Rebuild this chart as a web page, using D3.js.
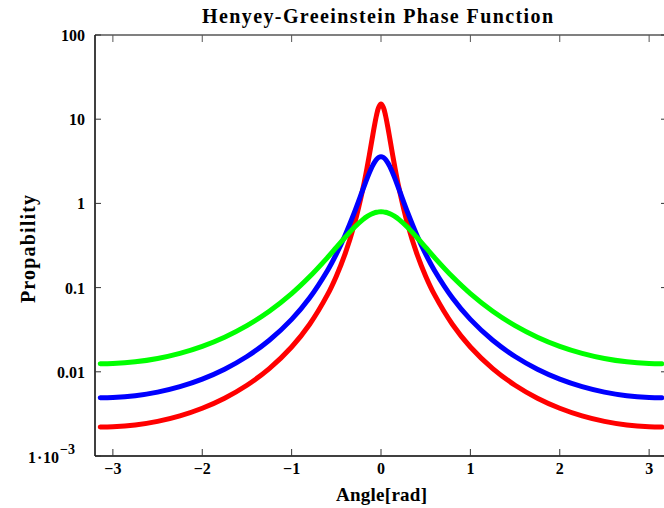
<!DOCTYPE html>
<html><head><meta charset="utf-8">
<script src="https://cdn.jsdelivr.net/npm/d3@7"></script>
<style>body{margin:0;background:#fff}svg{display:block}text{font-family:"Liberation Serif","Times New Roman",serif;font-weight:bold;fill:#000}</style>
</head><body>
<script>
const angles = [-3.1416,-3.0,-2.75,-2.5,-2.25,-2.0,-1.75,-1.5,-1.25,-1.0,-0.8,-0.6,-0.5,-0.4,-0.3,-0.2,-0.15,-0.1,-0.075,-0.05,-0.025,0,0.025,0.05,0.075,0.1,0.15,0.2,0.3,0.4,0.5,0.6,0.8,1.0,1.25,1.5,1.75,2.0,2.25,2.5,2.75,3.0,3.1416];
const redVals = [0.002204,0.002221,0.002335,0.002578,0.002998,0.003693,0.004861,0.006927,0.01092,0.01973,0.03648,0.08184,0.1368,0.2549,0.5563,1.539,2.879,5.777,8.181,11.15,13.93,15.12,13.93,11.15,8.181,5.777,2.879,1.539,0.5563,0.2549,0.1368,0.08184,0.03648,0.01973,0.01092,0.006927,0.004861,0.003693,0.002998,0.002578,0.002335,0.002221,0.002204];
const blueVals = [0.004912,0.004949,0.005201,0.005736,0.006659,0.008182,0.01073,0.01519,0.02368,0.04195,0.07525,0.1587,0.2501,0.4224,0.7698,1.486,2.053,2.725,3.052,3.328,3.515,3.581,3.515,3.328,3.052,2.725,2.053,1.486,0.7698,0.4224,0.2501,0.1587,0.07525,0.04195,0.02368,0.01519,0.01073,0.008182,0.006659,0.005736,0.005201,0.004949,0.004912];
const greenVals = [0.01243,0.01252,0.01313,0.0144,0.01657,0.02009,0.02579,0.03537,0.05237,0.08484,0.1343,0.2267,0.2996,0.3962,0.5159,0.6457,0.7049,0.7531,0.7713,0.7847,0.7930,0.7958,0.7930,0.7847,0.7713,0.7531,0.7049,0.6457,0.5159,0.3962,0.2996,0.2267,0.1343,0.08484,0.05237,0.03537,0.02579,0.02009,0.01657,0.0144,0.01313,0.01252,0.01243];
const xTicks = [-3,-2,-1,0,1,2,3];
const yTicks = [100,10,1,0.1,0.01,0.001];
const yTickLabels = ["100","10","1","0.1","0.01",""];
const seriesList = [
  {name:"g=0.9", values: redVals, color:"#ff0000"},
  {name:"g=0.8", values: blueVals, color:"#0000ff"},
  {name:"g=0.6", values: greenVals, color:"#00ff00"}
];

const W = 664, H = 508;
const L = 95, R = 667, T = 35, B = 456;
const svg = d3.select("body").append("svg").attr("width", W).attr("height", H);
const x = d3.scaleLinear().domain([-3.2, 3.2]).range([L, R]);
const y = d3.scaleLog().domain([0.001, 100]).range([B, T]);

// title
svg.append("text").attr("x", 202).attr("y", 23)
  .attr("textLength", 351).attr("lengthAdjust","spacing")
  .style("font-size","20px").text("Henyey-Greeinstein Phase Function");

// curves
const line = d3.line().x((d,i)=>x(angles[i])).y(d=>y(d)).curve(d3.curveCatmullRom);
svg.append("clipPath").attr("id","c").append("rect").attr("x",L).attr("y",T).attr("width",R-L).attr("height",B-T);
const g = svg.append("g").attr("clip-path","url(#c)");
seriesList.forEach(s => {
  g.append("path").attr("d", line(s.values)).attr("fill","none")
   .attr("stroke", s.color).attr("stroke-width", 5).attr("stroke-linejoin","round").attr("stroke-linecap","round");
});

// frame
svg.append("line").attr("x1",L).attr("x2",R).attr("y1",T).attr("y2",T).attr("stroke","#808080").attr("stroke-width",2);
svg.append("line").attr("x1",L).attr("x2",L).attr("y1",T).attr("y2",B).attr("stroke","#000").attr("stroke-width",1.5);
svg.append("line").attr("x1",L).attr("x2",R).attr("y1",B).attr("y2",B).attr("stroke","#000").attr("stroke-width",1.5);

// x ticks
xTicks.forEach(t => {
  svg.append("line").attr("x1",x(t)).attr("x2",x(t)).attr("y1",B).attr("y2",B-7).attr("stroke","#333").attr("stroke-width",1);
  svg.append("line").attr("x1",x(t)).attr("x2",x(t)).attr("y1",T).attr("y2",T+7).attr("stroke","#555").attr("stroke-width",1);
  svg.append("text").attr("x", x(t)).attr("y", 474).attr("text-anchor","middle")
    .style("font-size","16px").text(t < 0 ? "\u2212" + Math.abs(t) : String(t));
});
// y ticks
yTicks.forEach((t,i) => {
  svg.append("line").attr("x1",L).attr("x2",L+6).attr("y1",y(t)).attr("y2",y(t)).attr("stroke","#333").attr("stroke-width",1);
  svg.append("line").attr("x1",R).attr("x2",R-6).attr("y1",y(t)).attr("y2",y(t)).attr("stroke","#333").attr("stroke-width",1);
  if (yTickLabels[i]) {
    svg.append("text").attr("x", 85).attr("y", y(t)+6).attr("text-anchor","end")
      .style("font-size","16px").text(yTickLabels[i]);
  }
});
const lab = svg.append("text").attr("y", 463).style("font-size","16px");
lab.append("tspan").attr("x", 28).text("1");
lab.append("tspan").attr("x", 37).text("\u00b7");
lab.append("tspan").attr("x", 43).text("10");
lab.append("tspan").attr("x", 60).attr("y", 454).style("font-size","14px").text("\u22123");

// axis titles
svg.append("text").attr("x", 336).attr("y", 501).attr("textLength", 91).attr("lengthAdjust","spacing")
  .style("font-size","19px").text("Angle[rad]");
svg.append("text").attr("transform","translate(35,303) rotate(-90)").attr("textLength", 108).attr("lengthAdjust","spacing")
  .style("font-size","20px").text("Propability");
</script>
</body></html>
